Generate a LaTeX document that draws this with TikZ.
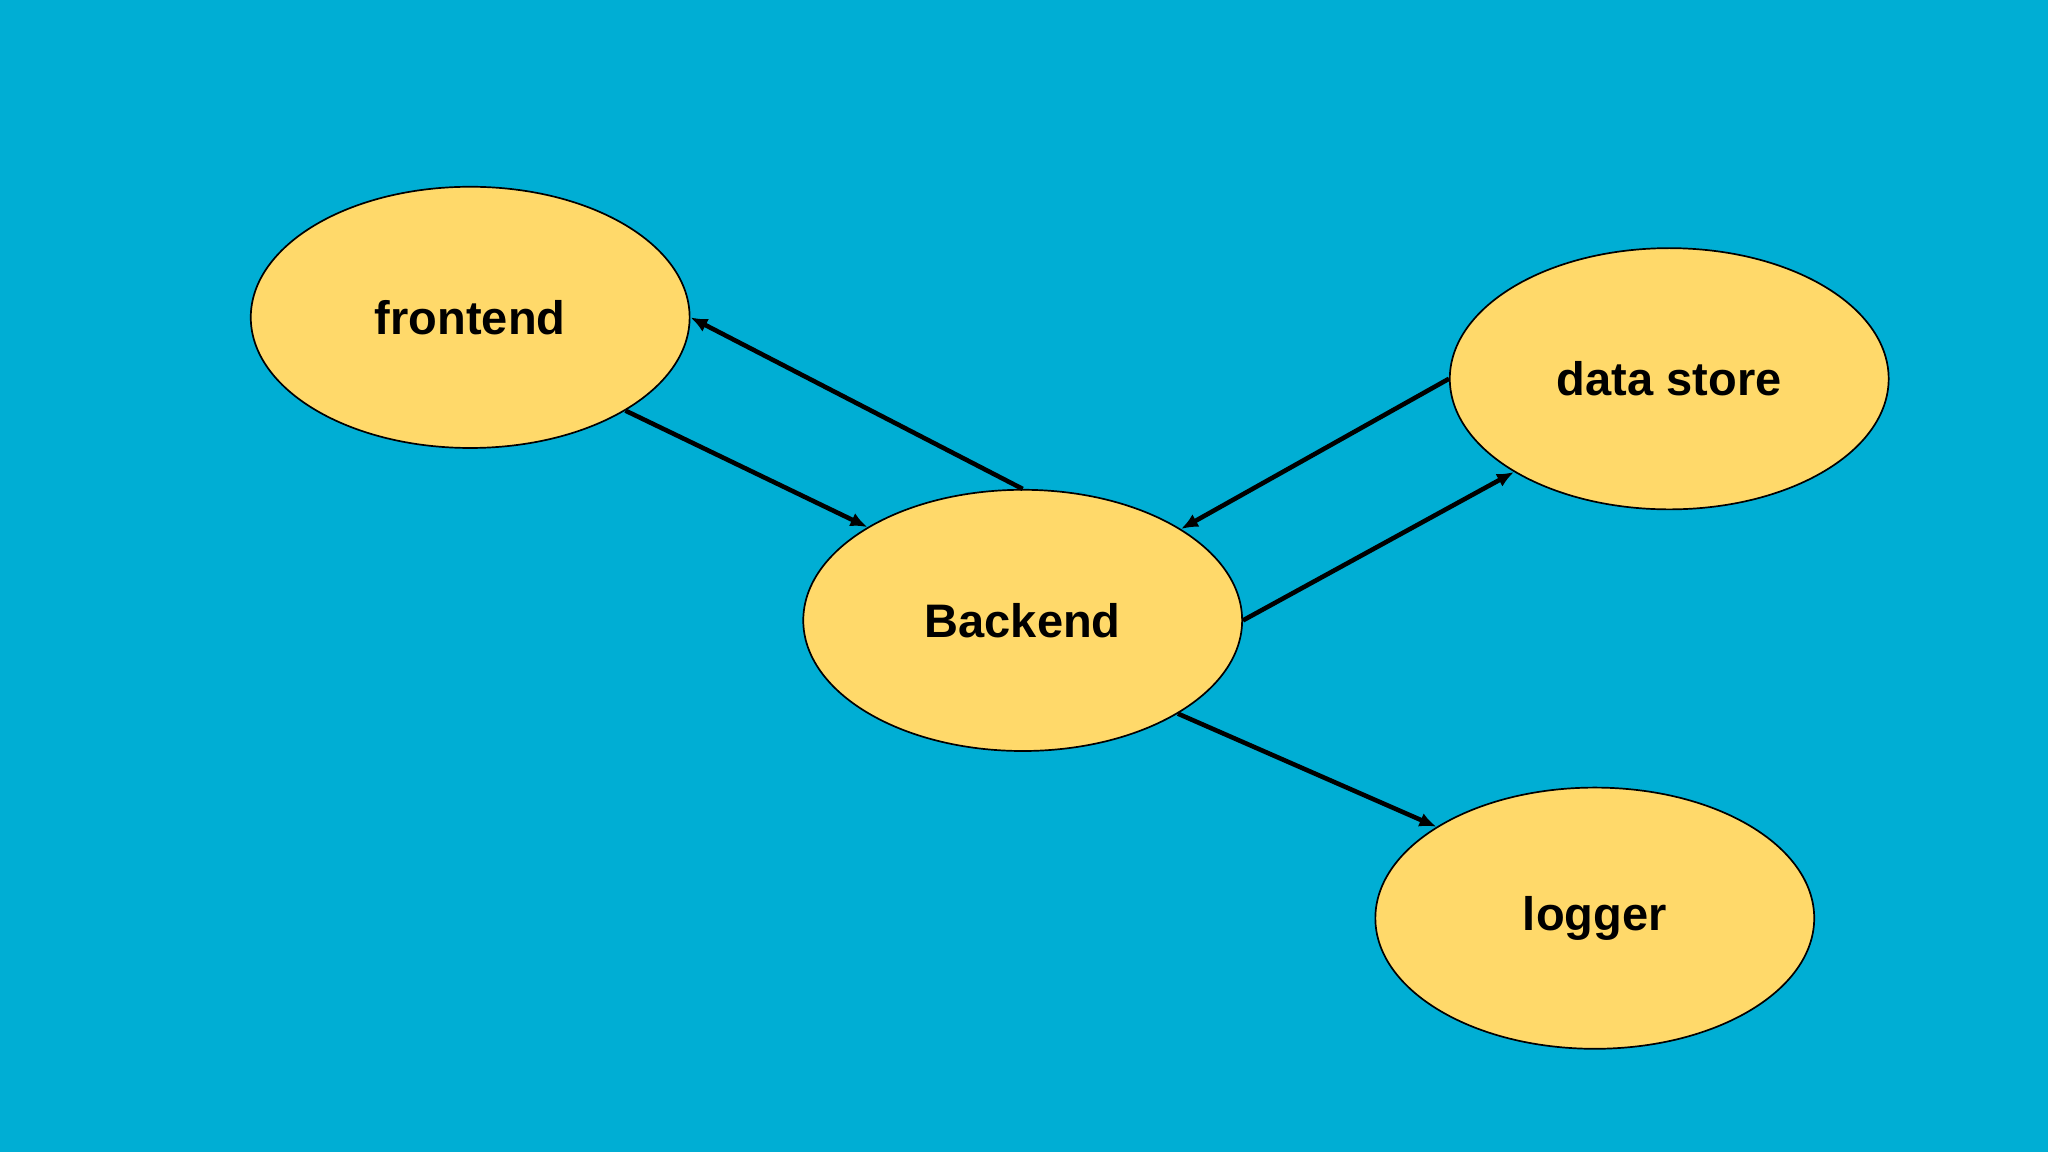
\documentclass[tikz,border=0pt]{standalone}
\usepackage{fontspec}
\setmainfont{Liberation Sans}
\usetikzlibrary{shapes.geometric,arrows.meta}
\definecolor{bgc}{HTML}{00AED4}
\definecolor{nodefill}{HTML}{FFD96A}
\begin{document}
\begin{tikzpicture}[x=1pt,y=1pt,
  blob/.style={ellipse,draw=black,line width=1.3pt,fill=nodefill,minimum width=336pt,minimum height=200pt,inner sep=0pt,font=\fontsize{36}{40}\selectfont\bfseries},
  conn/.style={line width=3.5pt,-{Latex[length=13pt,width=11pt]}}]
\fill[bgc] (0,0) rectangle (1568,882);
\useasboundingbox (0,0) rectangle (1568,882);
\node[blob] (fe) at (360,639) {frontend};
\node[blob] (be) at (783,407) {Backend};
\node[blob] (ds) at (1278,592) {data store};
\node[blob] (lg) at (1221,179) {logger};
\draw[conn] (fe.-31) -- (be.149);
\draw[conn] (be.90) -- (fe.0);
\draw[conn] (ds.180) -- (be.30.5);
\draw[conn] (be.0) -- (ds.211);
\draw[conn] (be.-31) -- (lg.150);
\end{tikzpicture}
\end{document}
